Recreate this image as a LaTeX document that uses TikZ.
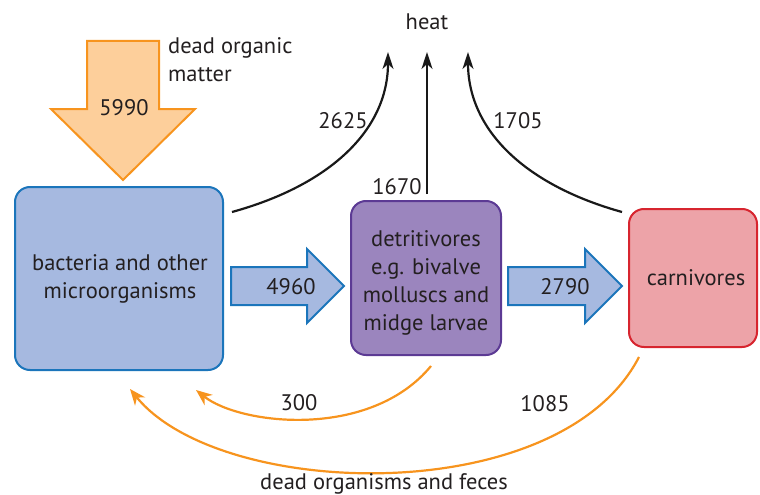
\documentclass[tikz,border=0pt]{standalone}
\usepackage{fontspec}
\setmainfont{PT Sans}
\usetikzlibrary{arrows.meta}
\definecolor{txt}{HTML}{231F20}
\definecolor{bfill}{HTML}{A6B9E0}
\definecolor{bdraw}{HTML}{1B75BB}
\definecolor{pfill}{HTML}{9B85BE}
\definecolor{pdraw}{HTML}{5C3A94}
\definecolor{rfill}{HTML}{EDA3A8}
\definecolor{rdraw}{HTML}{D7252F}
\definecolor{ofill}{HTML}{FDCF9B}
\definecolor{odraw}{HTML}{F7941E}
\begin{document}
\begin{tikzpicture}[x=1pt,y=-1pt,
  every node/.style={text=txt,font=\fontsize{22.5}{28}\selectfont,inner sep=0pt},
  box/.style={line width=2pt,rounded corners=15pt},
  heatline/.style={line width=2.2pt,draw=black!90,-{Stealth[length=17pt,width=11pt,inset=5pt]}},
  deadline/.style={line width=2.2pt,draw=odraw,-{Stealth[length=16pt,width=13pt,inset=5pt]}},
  fatarrow/.style={line width=2pt,line join=miter}]
\useasboundingbox (0,0) rectangle (760,495);
% boxes
\draw[box,fill=bfill,draw=bdraw] (15,187) rectangle (223,370);
\node[align=center] (bact) at (120,279) {bacteria and other\\microorganisms};
\draw[box,fill=pfill,draw=pdraw] (351,201) rectangle (501,355);
\node[align=center] (detr) at (426,283) {detritivores\\e.g. bivalve\\molluscs and\\midge larvae};
\draw[box,fill=rfill,draw=rdraw] (629,209) rectangle (757,347);
\node (carn) at (696,278) {carnivores};
% big orange arrow
\draw[fatarrow,fill=ofill,draw=odraw] (87,41) -- (159,41) -- (159,109) -- (195,109) -- (123,180) -- (51,109) -- (87,109) -- cycle;
\node (n5990) at (124,108) {5990};
\node[align=left,anchor=north west] (dom) at (168,37) {dead organic\\matter};
% blue arrows
\draw[fatarrow,fill=bfill,draw=bdraw] (231,267) -- (307,267) -- (307,249) -- (344,286) -- (307,323) -- (307,305) -- (231,305) -- cycle;
\node (n4960) at (291,287) {4960};
\draw[fatarrow,fill=bfill,draw=bdraw] (508,267) -- (585,267) -- (585,249) -- (622,286) -- (585,323) -- (585,305) -- (508,305) -- cycle;
\node (n2790) at (565,287) {2790};
% heat
\node (heat) at (427,22) {heat};
\coordinate (h1) at (388,52);
\coordinate (h2) at (427,52);
\coordinate (h3) at (468,52);
\coordinate (s1) at (232,212);
\coordinate (s2) at (427,194);
\coordinate (s3) at (622,212);
\draw[heatline] (s1) .. controls (330,185) and (388,130) .. (h1);
\draw[heatline] (s2) -- (h2);
\draw[heatline] (s3) .. controls (525,185) and (468,130) .. (h3);
\node (n2625) at (343,121) {2625};
\node (n1670) at (397,187) {1670};
\node (n1705) at (518,121) {1705};
% dead organisms
\coordinate (d1) at (431,366);
\coordinate (e1) at (196,390);
\coordinate (d2) at (639,357);
\coordinate (e2) at (130,389);
\draw[deadline] (d1) .. controls (370,440) and (240,425) .. (e1);
\draw[deadline] (d2) .. controls (560,510) and (220,500) .. (e2);
\node (n300) at (299,403) {300};
\node (n1085) at (545,404) {1085};
\node (deadorg) at (384,484) {dead organisms and feces};
\end{tikzpicture}
\end{document}
